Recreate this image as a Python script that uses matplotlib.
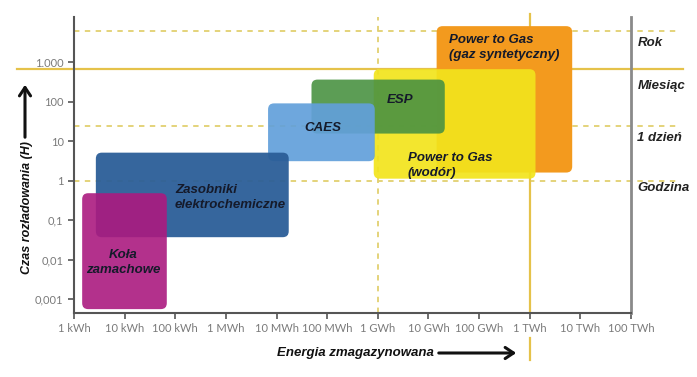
import matplotlib
matplotlib.use("Agg")
import matplotlib.pyplot as plt
from matplotlib.patches import FancyBboxPatch, FancyArrowPatch
from matplotlib.lines import Line2D

# ---- data (energy in kWh, discharge time in hours) ----
x_ticks = [1, 1e1, 1e2, 1e3, 1e4, 1e5, 1e6, 1e7, 1e8, 1e9, 1e10, 1e11]
x_labels = ["1 kWh", "10 kWh", "100 kWh", "1 MWh", "10 MWh", "100 MWh",
            "1 GWh", "10 GWh", "100 GWh", "1 TWh", "10 TWh", "100 TWh"]
y_ticks = [0.001, 0.01, 0.1, 1, 10, 100, 1000]
y_labels = ["0,001", "0,01", "0,1", "1", "10", "100", "1.000"]

tech_names = ["Power to Gas\n(gaz syntetyczny)", "Power to Gas\n(wodór)", "ESP",
              "CAES", "Zasobniki\nelektrochemiczne", "Koła\nzamachowe"]
e_min = [1.45e7, 8.3e5, 4.9e4, 6.8e3, 2.7, 1.45]
e_max = [6.9e9, 1.3e9, 2.1e7, 8.7e5, 1.74e4, 68]
t_min = [1.6, 1.12, 15.5, 3.1, 0.037, 0.00056]
t_max = [8100, 660, 360, 90, 5.1, 0.48]
colors = ["#f39a1e", "#f2e41c", "#4a9242", "#62a0da", "#2b5e98", "#ab1a80"]
alphas = [1.0, 0.92, 0.9, 0.92, 0.95, 0.9]
label_x = [2.6e7, 3.9e6, 2.7e6, 8.1e4, 98, 9.3]
label_y = [2340, 2.4, 112, 21, 0.37, 0.0084]
label_ha = ["left", "left", "center", "center", "left", "center"]

ref_lines_y = [6000, 650, 23.5, 1]          # Rok, Miesiąc, 1 dzień, Godzina
ref_labels = ["Rok", "Miesiąc", "1 dzień", "Godzina"]
ref_label_y = [2950, 250, 12.3, 0.66]
ref_styles = ["dashed", "solid", "dashed", "dashed"]
ref_lines_x = [1e6, 1e9]
ref_x_styles = ["dashed", "solid"]

gold = "#e5c24a"
dash_col = "#e2d070"

fig = plt.figure(figsize=(6.97, 3.77), dpi=100)
ax = fig.add_axes([74/697, 1-313/377, (631-74)/697, (313-17)/377])
ax.set_xscale("log")
ax.set_yscale("log")
ax.set_xlim(1, 1e11)
ax.set_ylim(10**-3.35, 10**4.14)

ax.set_xticks(x_ticks)
ax.set_xticklabels(x_labels)
ax.set_yticks(y_ticks)
ax.set_yticklabels(y_labels)
ax.minorticks_off()
ax.tick_params(axis="both", colors="#555555", labelcolor="#7a7a7a",
               labelsize=8, length=4, width=1.2)
ax.tick_params(axis="x", pad=3)
for lab in ax.get_xticklabels() + ax.get_yticklabels():
    lab.set_fontfamily("Lato")
ax.spines["top"].set_visible(False)
ax.spines["left"].set_color("#555555")
ax.spines["bottom"].set_color("#555555")
ax.spines["left"].set_linewidth(1.5)
ax.spines["bottom"].set_linewidth(1.5)
ax.spines["right"].set_color("#8a8a8a")
ax.spines["right"].set_linewidth(2)

# reference lines
for yv, st in zip(ref_lines_y, ref_styles):
    if st == "solid":
        ax.axhline(yv, xmin=-0.102, xmax=1.093, color=gold, lw=1.6,
                   clip_on=False, zorder=1)
    else:
        ax.axhline(yv, xmin=0.0, xmax=1.084, color=dash_col, lw=1.3,
                   ls=(0, (3, 3)), clip_on=False, zorder=1)
for xv, st in zip(ref_lines_x, ref_x_styles):
    if st == "solid":
        ax.axvline(xv, ymin=0, ymax=1.01, color=gold, lw=1.6,
                   clip_on=False, zorder=1)
    else:
        ax.axvline(xv, ymin=0, ymax=1.0, color=dash_col, lw=1.3,
                   ls=(0, (3, 3)), clip_on=False, zorder=1)

# segment of the 1 TWh line below the axis
to_axes = ax.transData + ax.transAxes.inverted()
xa = to_axes.transform((ref_lines_x[1], 1))[0]
ax.add_line(Line2D([xa, xa], [-0.085, -0.16], transform=ax.transAxes,
                   color=gold, lw=1.6, clip_on=False))

# rounded boxes
bbox = ax.get_window_extent()
aspect = bbox.width / bbox.height
rs = 6 / bbox.width
for x0, x1, y0, y1, c, a in zip(e_min, e_max, t_min, t_max, colors, alphas):
    (ax0, ay0) = to_axes.transform((x0, y0))
    (ax1, ay1) = to_axes.transform((x1, y1))
    p = FancyBboxPatch((ax0, ay0), ax1 - ax0, ay1 - ay0,
                       boxstyle=f"round,pad=0,rounding_size={rs}",
                       mutation_aspect=aspect, transform=ax.transAxes,
                       facecolor=c, edgecolor="none", alpha=a, zorder=2)
    ax.add_patch(p)

txt = dict(fontsize=9.5, fontweight="bold", fontstyle="italic",
           color="#151a2a", family="Liberation Sans", zorder=5,
           linespacing=1.3)
for name, lx, ly, ha in zip(tech_names, label_x, label_y, label_ha):
    ax.text(lx, ly, name, ha=ha, va="center", **txt)

# right-side labels
for lbl, yv in zip(ref_labels, ref_label_y):
    ax.text(1.0115, yv, lbl, transform=ax.get_yaxis_transform(),
            ha="left", va="center", fontsize=9.5, fontweight="bold",
            fontstyle="italic", color="#222222", family="Liberation Sans")

# axis titles with arrows
fig.text(277/697, 1-353/377, "Energia zmagazynowana", ha="left", va="center",
         fontsize=9.5, fontweight="bold", fontstyle="italic", color="#111111",
         family="Liberation Sans")
fig.add_artist(FancyArrowPatch(
    (436/697, 1-353/377), (519/697, 1-353/377), transform=fig.transFigure,
    arrowstyle="->,head_length=6,head_width=4", color="#111111", lw=2.2,
    mutation_scale=1))
fig.text(27/697, 1-208/377, "Czas rozładowania (H)", ha="center", va="center",
         rotation=90, fontsize=9, fontweight="bold", fontstyle="italic",
         color="#111111", family="Liberation Sans")
fig.add_artist(FancyArrowPatch(
    (25/697, 1-140/377), (25/697, 1-82/377), transform=fig.transFigure,
    arrowstyle="->,head_length=6,head_width=4", color="#111111", lw=2.2,
    mutation_scale=1))

fig.savefig("out.png", dpi=100)
